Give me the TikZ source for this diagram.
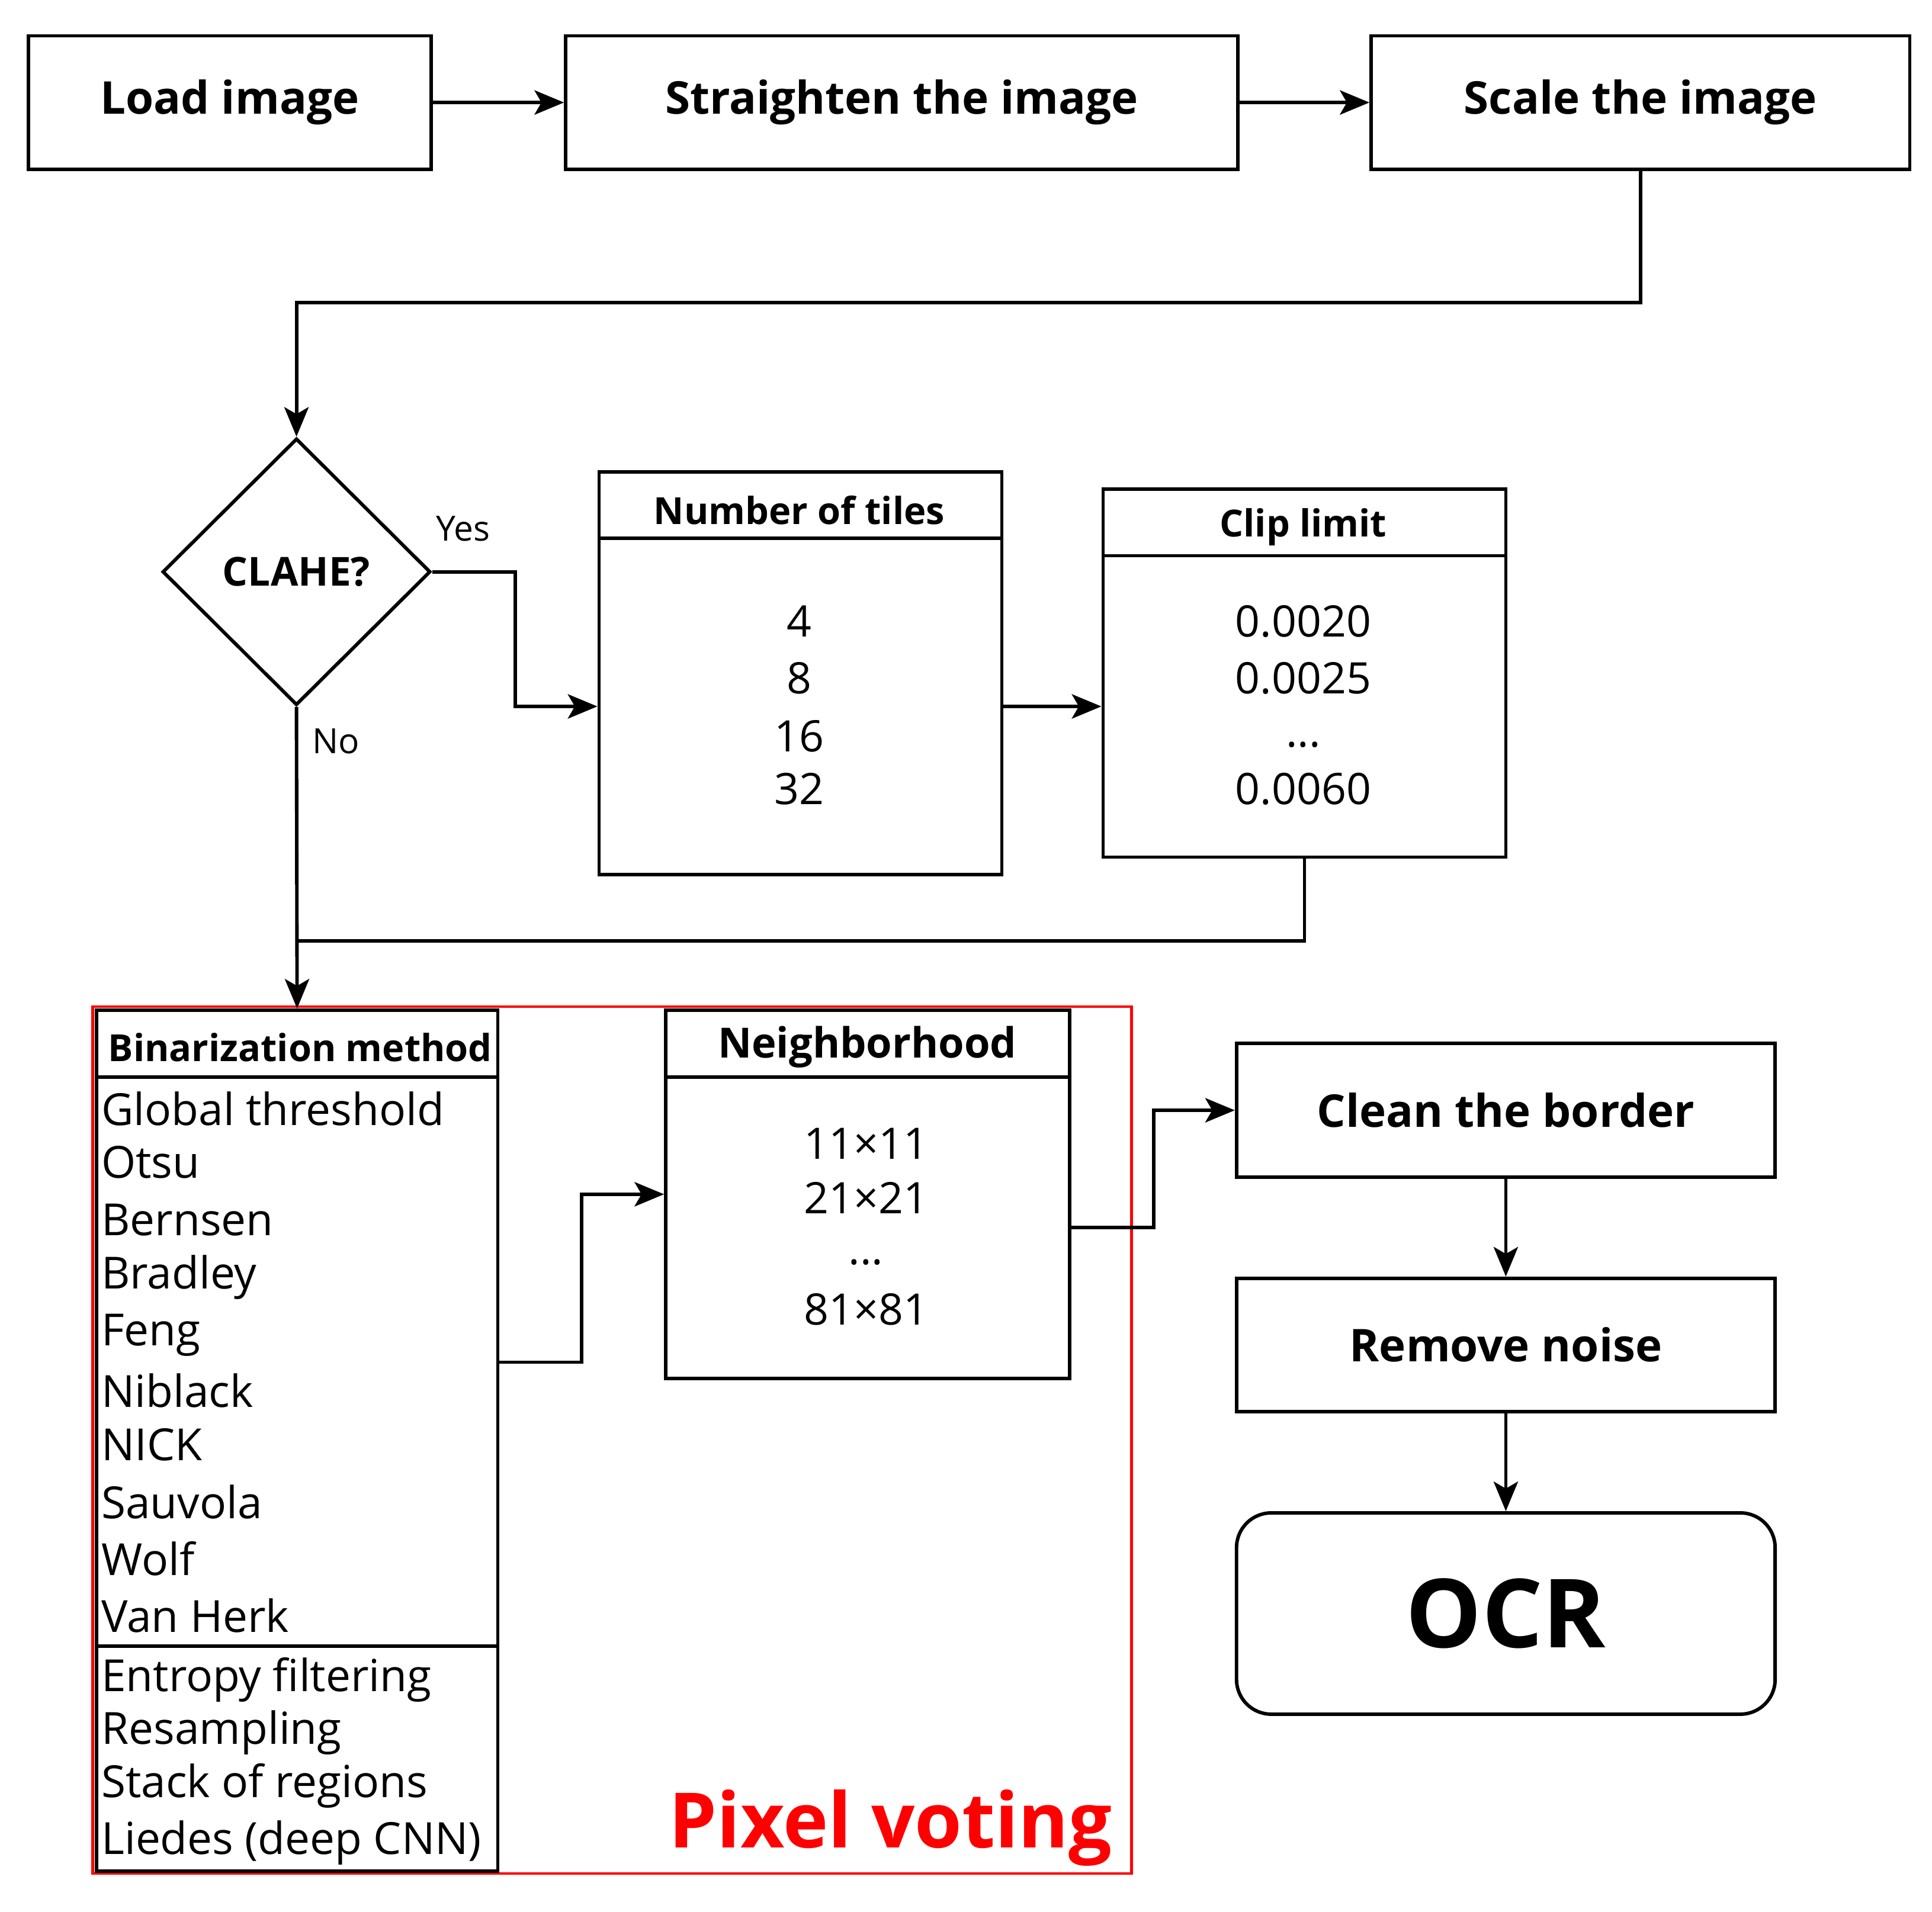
\documentclass[tikz,border=0pt]{standalone}
\usepackage{fontspec}
\setmainfont{Open Sans}
\usetikzlibrary{arrows.meta,calc,shapes.geometric}
\def\u{1.4226pt}
\newcommand\fsz[1]{\fontsize{#1}{#1}\selectfont}
\begin{document}
\begin{tikzpicture}[x=1.4226pt,y=-1.4226pt,
  lw/.style={line width=4pt},
  box/.style={draw,lw,rectangle,inner sep=0pt,font=\fsz{52pt}\bfseries},
  arr/.style={lw,-{Stealth[length=34pt,width=28pt,inset=8pt]}},
  hdr/.style={font=\fsz{43pt}\bfseries},
  val/.style={font=\fsz{50pt}},
  item/.style={font=\fsz{51pt},anchor=west,inner sep=0pt}]
\useasboundingbox (0,0) rectangle (1564,1548);
\node[box,minimum width=326*\u,minimum height=108*\u] (load) at (186,83) {Load image};
\node[box,minimum width=544*\u,minimum height=108*\u] (str) at (730,83) {Straighten the image};
\node[box,minimum width=436*\u,minimum height=108*\u] (scale) at (1328,83) {Scale the image};
\draw[arr] (load) -- (str);
\draw[arr] (str) -- (scale);
\node[draw,lw,diamond,minimum width=217*\u,minimum height=216*\u,inner sep=0pt,font=\fsz{46pt}\bfseries] (cl) at (240,463) {CLAHE?};
\draw[arr] (scale.south) |- (1000,245) -| (cl.north);
% tiles
\node[draw,lw,minimum width=326*\u,minimum height=326*\u,inner sep=0pt] (tiles) at (648,545) {};
\draw[lw] (485,436) -- (811,436);
\node[hdr] (th) at (647,413) {Number of tiles};
\node[val] (t1) at (647,503) {4};
\node[val] (t2) at (647,549) {8};
\node[val] (t3) at (647,596) {16};
\node[val] (t4) at (647,639) {32};
% clip
\node[draw,lw,minimum width=326*\u,minimum height=298*\u,inner sep=0pt] (clip) at (1056,545) {};
\draw[lw] (893,450) -- (1219,450);
\node[hdr] (ch) at (1055,427) {Clip limit};
\node[val] (c1) at (1055,503) {0.0020};
\node[val] (c2) at (1055,549) {0.0025};
\node[val] (c3) at (1055,603) {...};
\node[val] (c4) at (1055,639) {0.0060};
\coordinate (yb) at (417,463);
\draw[arr] (cl.east) -- (yb) |- (tiles.west|-0,572);
\node[font=\fsz{40pt}] (yes) at (375,428) {Yes};
\draw[arr] (tiles.east|-0,572) -- (clip.west|-0,572);
% pixel voting
\node[draw=red,line width=3pt,minimum width=841*\u,minimum height=702*\u,inner sep=0pt] (pv) at (495.5,1166) {};
\node[font=\fsz{88pt}\bfseries,text=red] (pvl) at (721,1480) {Pixel voting};
\node[draw,lw,minimum width=325*\u,minimum height=697*\u,inner sep=0pt] (bin) at (240.5,1166.5) {};
\draw[lw] (78,872) -- (403,872);
\draw[lw] (78,1333) -- (403,1333);
\node[font=\fsz{43pt}\bfseries] (bh) at (243,848) {Binarization method};
\foreach \t/\y [count=\i] in {Global threshold/898,Otsu/941,Bernsen/988,Bradley/1034,Feng/1081,Niblack/1126,NICK/1170,Sauvola/1216,Wolf/1262,Van Herk/1308,Entropy filtering/1360,Resampling/1403,Stack of regions/1446,Liedes (deep CNN)/1492}
  \node[item] (b\i) at (82,\y) {\t};
\draw[arr] (cl.south) -- (bin.north);
\draw[lw] (clip.south) |- (240,762);
\node[font=\fsz{40pt}] (no) at (272,600) {No};
% neighborhood
\node[draw,lw,minimum width=327*\u,minimum height=298*\u,inner sep=0pt] (nb) at (702.5,967) {};
\draw[lw] (539,872) -- (866,872);
\node[font=\fsz{48pt}\bfseries] (nh) at (702,848) {Neighborhood};
\node[val] (n1) at (701,926) {11×11};
\node[val] (n2) at (701,970) {21×21};
\node[val] (n3) at (701,1022) {...};
\node[val] (n4) at (701,1060) {81×81};
\coordinate (bm) at (471,1103);
\draw[arr] (bin.east|-0,1103) -- (bm) |- (nb.west);
% right
\node[box,minimum width=436*\u,minimum height=108*\u] (clean) at (1219,899) {Clean the border};
\node[box,minimum width=436*\u,minimum height=108*\u] (noise) at (1219,1089) {Remove noise};
\node[draw,lw,rounded corners=40pt,minimum width=436*\u,minimum height=163*\u,inner sep=0pt,font=\fsz{110pt}\bfseries] (ocr) at (1219,1306.5) {OCR};
\coordinate (nm) at (934,994);
\draw[arr] (nb.east|-0,994) -- (nm) |- (clean.west);
\draw[arr] (clean) -- (noise);
\draw[arr] (noise) -- (ocr);
\end{tikzpicture}
\end{document}
